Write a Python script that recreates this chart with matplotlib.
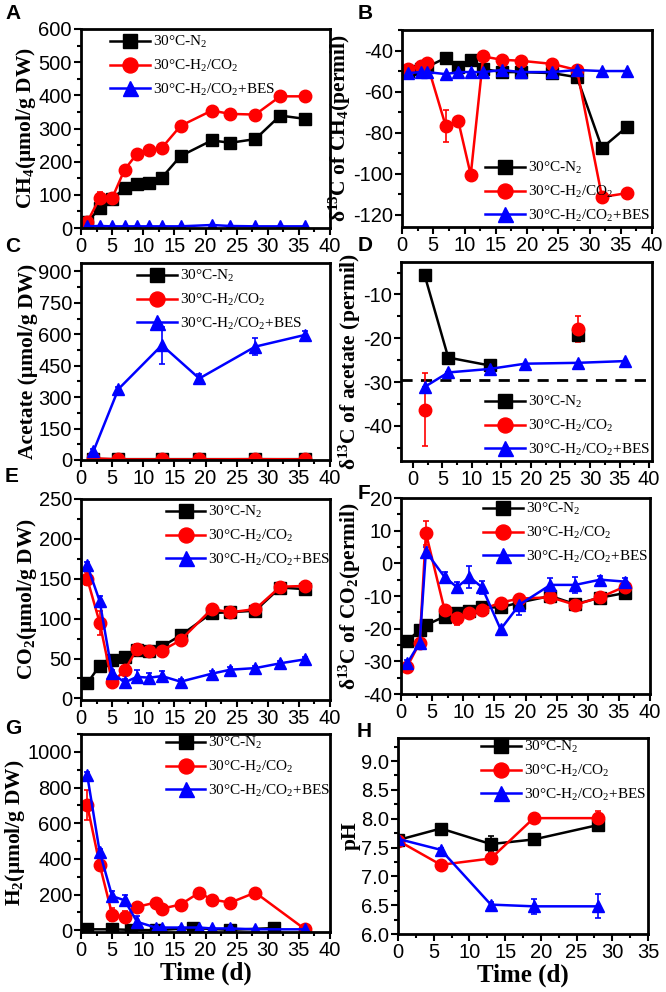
import numpy as np
import matplotlib
matplotlib.use("Agg")
import matplotlib.pyplot as plt
from matplotlib.lines import Line2D
from matplotlib.ticker import AutoMinorLocator, MultipleLocator, FormatStrFormatter

plt.rcParams['font.family'] = ['Liberation Sans', 'DejaVu Sans']
plt.rcParams['axes.unicode_minus'] = False
plt.rcParams['mathtext.fontset'] = 'custom'
plt.rcParams['mathtext.rm'] = 'Liberation Serif'
plt.rcParams['mathtext.it'] = 'Liberation Serif:italic'
plt.rcParams['mathtext.bf'] = 'Liberation Serif:bold'

nan = np.nan
labels = ['30°C-N$_2$', '30°C-H$_2$/CO$_2$', '30°C-H$_2$/CO$_2$+BES']

# A: CH4 (umol/g DW)
a_x = [1, 3, 5, 7, 9, 11, 13, 16, 21, 24, 28, 32, 36]
a_n2 = [18, 59, 87, 120, 132, 137, 152, 217, 264, 257, 268, 339, 329]
a_h2 = [18, 90, 90, 176, 224, 235, 242, 308, 354, 344, 342, 397, 397]
a_bes = [5, 6, 5, 5, 5, 5, 5, 5, 9, 6, 5, 5, 5]
a_n2_err = [3, 8, 5, 5, 5, 5, 5, 8, 8, 8, 8, 8, 12]
a_h2_err = [5, 20, 8, 8, 8, 8, 8, 8, 8, 8, 8, 5, 5]

# B: d13C of CH4 (permil)
b_x = [1, 3, 4, 7, 9, 11, 13, 16, 19, 24, 28, 32, 36]
b_n2 = [-50, -49, -48, -43.6, -48, -44.5, -49, -50.5, -50.5, -51, -53, -87.5, -77.2]
b_h2 = [-48.9, -47.3, -46.2, -76.8, -74.3, -100.6, -42.9, -44.5, -45, -46.5, -49.5, -111.4, -109.5]
b_bes = [-51, -50.5, -50.5, -51.5, -50.5, -50.5, -50.5, -49.5, -50.5, -50.5, -49.5, -50, -50]
b_h2_err = [1, 1, 1, 8, 1.5, 2, 1, 1, 1, 1, 1, 1, 1]

# C: acetate (umol/g DW)
c_x = [2, 6, 13, 19, 28, 36]
c_n2 = [5, 4, 4, 4, 4, 4]
c_h2 = [8, 3, 3, 3, 4, 3]
c_bes = [42, 338, 548, 389, 541, 597]
c_bes_err = [10, 10, 88, 20, 40, 20]

# D: d13C of acetate (permil)
d_x = [2, 6, 13, 19, 28, 36]
d_n2 = [-5.6, -24.4, -26.2, nan, -19.2, nan]
d_h2 = [-36.3, nan, nan, nan, -17.9, nan]
d_bes = [-31.1, -27.8, -27.0, -25.8, -25.6, -25.2]
d_n2_err = [0.3, 0.5, 0.4, 0, 1.5, 0]
d_h2_err = [8.3, 0, 0, 0, 3.0, 0]
d_ref = -29.6

# E: CO2 (umol/g DW)
e_x = [1, 3, 5, 7, 9, 11, 13, 16, 21, 24, 28, 32, 36]
e_n2 = [19, 41, 48, 52, 61, 60, 65, 79, 107, 108, 110, 139, 137]
e_h2 = [150, 95, 20, 35, 62, 59, 60, 73, 112, 108, 112, 140, 141]
e_bes = [167, 122, 32, 20, 27, 26, 28, 21, 31, 36, 38, 44, 49]
e_h2_err = [8, 15, 4, 5, 6, 5, 5, 5, 4, 4, 5, 5, 5]
e_bes_err = [4, 6, 4, 4, 8, 6, 6, 3, 3, 3, 3, 3, 3]

# F: d13C of CO2 (permil)
f_x = [1, 3, 4, 7, 9, 11, 13, 16, 19, 24, 28, 32, 36]
f_n2 = [-23.8, -20.4, -18.9, -16.3, -15.3, -14.5, -13.5, -13.5, -12, -10, -12.5, -10.5, -9.1]
f_h2 = [-31.6, -24.3, 9.3, -14.3, -16.8, -15.3, -14.2, -12, -10.8, -10.4, -12.7, -10.4, -7.1]
f_bes = [-30.6, -24.3, 3.6, -4.2, -7.3, -4.2, -7.3, -20.2, -12.7, -6.6, -6.6, -5.0, -5.6]
f_h2_err = [1, 1, 3.8, 1, 2, 1.5, 1, 1, 1, 1, 1, 1, 1]
f_bes_err = [1, 1, 1.5, 1.5, 1.5, 3.5, 2, 1, 3, 2, 2.5, 1, 1]

# G: H2 (umol/g DW)
g_n2_x = [1, 5, 8, 12, 18, 24, 31]
g_n2 = [5, 5, 2, 0, 12, 2, 12]
g_x = [1, 3, 5, 7, 9, 12, 13, 16, 19, 21, 24, 28, 36]
g_h2 = [701, 368, 88, 75, 131, 155, 121, 144, 211, 172, 155, 211, 5]
g_bes = [869, 439, 191, 168, 47, 15, 15, 15, 15, 10, 10, 5, 5]
g_h2_err = [85, 15, 35, 30, 10, 10, 10, 10, 10, 10, 10, 10, 3]
g_bes_err = [20, 15, 30, 30, 35, 5, 5, 5, 5, 5, 5, 3, 3]

# H: pH
h_x = [0, 6, 13, 19, 28]
h_n2 = [7.63, 7.83, 7.56, 7.64, 7.89]
h_h2 = [7.62, 7.2, 7.31, 8.01, 8.01]
h_bes = [7.65, 7.46, 6.51, 6.48, 6.48]
h_n2_err = [0.05, 0.04, 0.14, 0.1, 0.07]
h_h2_err = [0.05, 0.03, 0.04, 0.03, 0.12]
h_bes_err = [0.05, 0.04, 0.05, 0.13, 0.21]

W, H = 666, 992
fig = plt.figure(figsize=(6.66, 9.92), dpi=100)


def pax(l, t, r, b):
    return fig.add_axes([l / W, 1 - b / H, (r - l) / W, (b - t) / H])


serif = 'Liberation Serif'
styles = [dict(color='black', marker='s', ms=8),
          dict(color='#ff0000', marker='o', ms=9),
          dict(color='#0000ff', marker='^', ms=9)]
handles = [Line2D([], [], lw=1.8, **st) for st in styles]


def draw(ax, xs, ys, errs):
    for i, (x, y, e) in enumerate(zip(xs, ys, errs)):
        st = styles[i]
        ax.errorbar(x, y, yerr=e, color=st['color'], marker=st['marker'], ms=st['ms'],
                    lw=1.8, elinewidth=1.2, capsize=2.5, capthick=1.2)


def style(ax, xlim, ylim, xstep, ystep, ylabel, xlabel=None):
    ax.set_xlim(*xlim)
    ax.set_ylim(*ylim)
    ax.xaxis.set_major_locator(MultipleLocator(xstep))
    ax.yaxis.set_major_locator(MultipleLocator(ystep))
    ax.xaxis.set_minor_locator(AutoMinorLocator(2))
    ax.yaxis.set_minor_locator(AutoMinorLocator(2))
    for s in ax.spines.values():
        s.set_linewidth(2)
    ax.tick_params(which='both', direction='out', width=1.5, labelsize=14.5, pad=1.5)
    ax.tick_params(which='major', length=5)
    ax.tick_params(which='minor', length=3)
    ax.set_ylabel(ylabel, fontfamily=serif, fontweight='bold', fontsize=15.5, labelpad=0)
    if xlabel:
        ax.set_xlabel(xlabel, fontfamily=serif, fontweight='bold', fontsize=18, labelpad=1)


def leg(ax, loc, anchor):
    ax.legend(handles, labels, loc=loc, bbox_to_anchor=anchor, frameon=False,
              prop={'family': serif, 'size': 11}, handlelength=2.6, handletextpad=0.2,
              labelspacing=0.5, markerscale=1.2, borderaxespad=0.2)


z = lambda n: [0] * n

# A
ax = pax(81, 29, 330, 228)
draw(ax, [a_x] * 3, [a_n2, a_h2, a_bes], [a_n2_err, a_h2_err, z(13)])
style(ax, (0, 40), (0, 600), 5, 100, 'CH$_\\mathbf{4}$(μmol/g DW)')
leg(ax, 'upper left', (0.08, 1.02))

# B
ax = pax(402, 30, 652, 227)
draw(ax, [b_x] * 3, [b_n2, b_h2, b_bes], [z(13), b_h2_err, z(13)])
style(ax, (0, 40), (-126, -30), 5, 20, 'δ$^\\mathbf{13}$C of CH$_\\mathbf{4}$(permil)')
leg(ax, 'lower right', (1.03, -0.03))

# C
ax = pax(81, 263, 330, 460)
draw(ax, [c_x] * 3, [c_n2, c_h2, c_bes], [z(6), z(6), c_bes_err])
style(ax, (0, 40), (0, 940), 5, 150, 'Acetate (μmol/g DW)')
leg(ax, 'upper left', (0.19, 1.02))

# D
ax = pax(401, 262, 652, 461)
ax.axhline(d_ref, color='black', lw=2, ls=(0, (4, 3)))
draw(ax, [d_x] * 3, [d_n2, d_h2, d_bes], [d_n2_err, d_h2_err, z(6)])
style(ax, (-2, 40.5), (-48, -2.6), 5, 10, 'δ$^\\mathbf{13}$C of acetate (permil)')
ax.set_xticks([0, 5, 10, 15, 20, 25, 30, 35, 40])
leg(ax, 'lower right', (1.03, -0.03))

# E
ax = pax(81, 499, 330, 700)
draw(ax, [e_x] * 3, [e_n2, e_h2, e_bes], [z(13), e_h2_err, e_bes_err])
style(ax, (0, 40), (-2, 250), 5, 50, 'CO$_\\mathbf{2}$(μmol/g DW)')
leg(ax, 'upper right', (1.04, 1.02))

# F
ax = pax(401, 498, 650, 694)
draw(ax, [f_x] * 3, [f_n2, f_h2, f_bes], [z(13), f_h2_err, f_bes_err])
style(ax, (0, 40), (-40, 20), 5, 10, 'δ$^\\mathbf{13}$C of CO$_\\mathbf{2}$(permil)')
leg(ax, 'upper right', (1.03, 1.03))

# G
ax = pax(81, 734, 330, 932)
draw(ax, [g_n2_x, g_x, g_x], [g_n2, g_h2, g_bes], [z(7), g_h2_err, g_bes_err])
style(ax, (0, 40), (-10, 1100), 5, 200, 'H$_\\mathbf{2}$(μmol/g DW)', 'Time (d)')
leg(ax, 'upper right', (1.04, 1.04))

# H
ax = pax(398, 738, 648, 934)
draw(ax, [h_x] * 3, [h_n2, h_h2, h_bes], [h_n2_err, h_h2_err, h_bes_err])
style(ax, (0, 35), (6.0, 9.4), 5, 0.5, 'pH', 'Time (d)')
ax.yaxis.set_major_formatter(FormatStrFormatter('%.1f'))
leg(ax, 'upper right', (1.03, 1.04))

for letter, x, y in [('A', 5, 4), ('B', 358, 4), ('C', 5, 237), ('D', 358, 236),
                     ('E', 5, 467), ('F', 358, 484), ('G', 5, 719), ('H', 357, 722)]:
    fig.text(x / W, 1 - y / H, letter, fontsize=15, fontweight='bold', va='top', ha='left')

fig.savefig('out.png', dpi=100)
